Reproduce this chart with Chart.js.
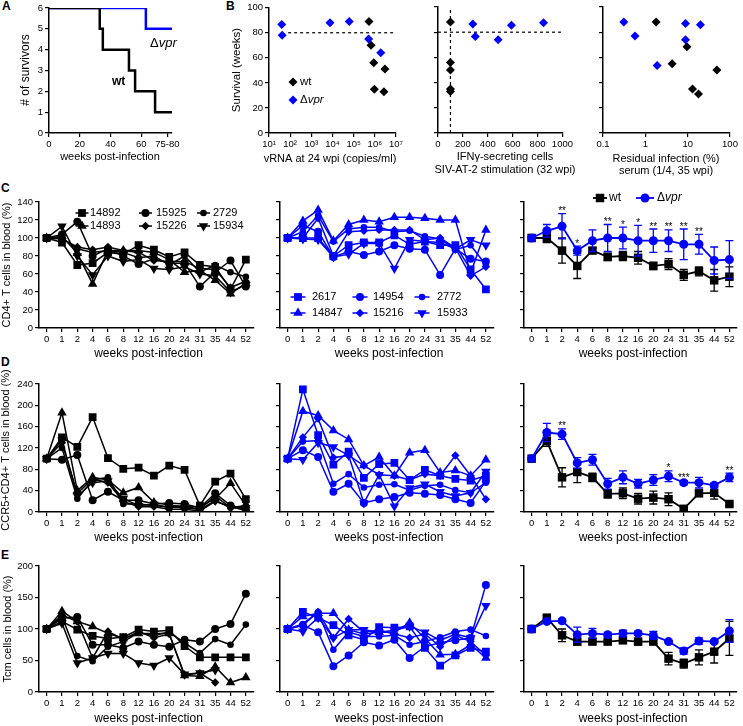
<!DOCTYPE html>
<html>
<head>
<meta charset="utf-8">
<script src="https://cdn.jsdelivr.net/npm/chart.js@4.4.1/dist/chart.umd.min.js"></script>
<style>
html,body{margin:0;padding:0;background:#fff;}
#root{position:relative;width:743px;height:726px;overflow:hidden;background:#fff;}
#root canvas{position:absolute;}
.pl{position:absolute;font:bold 12px 'Liberation Sans',Arial,sans-serif;color:#000;line-height:12px;}
</style>
</head>
<body>
<div id="root">
<div class="pl" style="left:2px;top:0px">A</div>
<div class="pl" style="left:226px;top:0px">B</div>
<div class="pl" style="left:1px;top:182px">C</div>
<div class="pl" style="left:1px;top:356px">D</div>
<div class="pl" style="left:1px;top:549px">E</div>
</div>
<script>
// ================= DATA =================
const weeks = ['0','1','2','4','6','8','12','16','20','24','31','35','44','52'];

// Panel A: survival step curves (corner points)
const survWeeksWt   = [0, 33, 33, 35, 35, 52, 52, 56, 56, 69, 69, 80];
const survCountWt   = [6, 6, 5, 5, 4, 4, 3, 3, 2, 2, 1, 1];
const survWeeksDvpr = [0, 63, 63, 80];
const survCountDvpr = [6, 6, 5, 5];
const survTickWeeks  = [0, 20, 40, 60, 77];
const survTickLabels = ['0', '20', '40', '60', '75-80'];

// Panel B
const survivalCutoff = 80;
const ifnCutoff = 100;
const vrnaWt       = [5.3e5, 6.6e5, 8.9e5, 3.0e6, 9.5e5, 2.7e6];
const survivalWt   = [89, 70, 56, 51, 35, 33];
const vrnaDvpr     = [40, 42, 7.6e3, 6.2e4, 5.1e5, 1.9e6];
const survivalDvpr = [86.5, 78, 88, 89, 75, 64];
const vrnaTickValues = [1e1, 1e2, 1e3, 1e4, 1e5, 1e6, 1e7];
const vrnaTickLabels = ['10¹', '10²', '10³', '10⁴', '10⁵', '10⁶', '10⁷'];
const ifnWt       = [100, 100, 100, 100, 100];
const ifnSurvWt   = [88, 56, 50, 35, 33];
const ifnDvpr     = [280, 300, 483, 590, 848];
const ifnSurvDvpr = [86.5, 76.5, 74, 85.5, 87.5];
const ifnTickValues = [0, 200, 400, 600, 800, 1000];
const ifnTickLabels = ['0', '200', '400', '600', '800', '1000'];
const resWt       = [1.8, 9.6, 4.3, 49, 13, 18];
const resSurvWt   = [88, 68.5, 55, 50, 35, 31];
const resDvpr     = [0.31, 0.57, 1.9, 8.9, 8.9, 20];
const resSurvDvpr = [88, 77, 53.5, 87, 74, 86];
const resTickValues = [0.1, 1, 10, 100];
const resTickLabels = ['0.1', '1', '10', '100'];

// Panel C: CD4+ T cells (% of baseline)
const cd4_14892 = [100, 95, 70, 72, 84, 82, 92, 87, 79, 84, 70, 68, 43, 76];
const cd4_15925 = [100, 104, 118, 80, 88, 80, 71, 77, 72, 72, 46, 62, 75, 46];
const cd4_2729  = [100, 100, 88, 84, 86, 84, 78, 80, 70, 80, 62, 70, 62, 57];
const cd4_14893 = [100, 102, 83, 49, 86, 86, 86, 84, 76, 62, 64, 53, 38, 50];
const cd4_15226 = [100, 99, 90, 87, 90, 86, 84, 75, 74, 74, 66, 65, 45, 52];
const cd4_15934 = [100, 113, 80, 59, 80, 74, 76, 66, 65, 68, 60, 58, 40, 48];
const cd4_2617  = [100, 100, 100, 80, 92, 95, 95, 103, 93, 96, 92, 92, 65, 43];
const cd4_14954 = [100, 114, 107, 79, 85, 81, 85, 92, 88, 87, 59, 88, 77, 74];
const cd4_2772  = [100, 107, 125, 96, 110, 112, 112, 107, 108, 102, 99, 87, 92, 70];
const cd4_14847 = [100, 119, 131, 97, 115, 120, 118, 123, 123, 122, 120, 120, 61, 109];
const cd4_15216 = [100, 100, 122, 80, 107, 108, 109, 109, 109, 98, 100, 89, 58, 68];
const cd4_15933 = [100, 99, 98, 79, 82, 94, 94, 66, 98, 96, 95, 88, 98, 92];
const cd4MeanWt   = [100, 100, 86, 69, 86, 79, 80, 78, 69, 71, 59, 63, 53, 57];
const cd4SemWt    = [0, 5, 14, 14, 3, 4, 5, 7, 4, 6, 6, 5, 12, 11];
const cd4MeanDvpr = [100, 108, 113, 86, 97, 100, 100, 97, 97, 97, 93, 93, 75, 76];
const cd4SemDvpr  = [0, 7, 14, 5, 12, 15, 12, 17, 13, 12, 17, 11, 15, 21];
const cd4Stars    = ['', '', '**', '*', '', '**', '*', '*', '**', '**', '**', '**', '', ''];

// Panel D: CCR5+CD4+ T cells
const ccr5_14892 = [100, 140, 122, 178, 101, 81, 83, 68, 87, 79, 12, 57, 72, 24];
const ccr5_15925 = [100, 98, 107, 22, 38, 22, 22, 15, 17, 15, 8, 35, 12, 5];
const ccr5_2729  = [100, 120, 25, 60, 65, 15, 15, 12, 10, 8, 5, 30, 8, 12];
const ccr5_14893 = [100, 186, 40, 65, 60, 36, 46, 18, 13, 10, 10, 25, 54, 12];
const ccr5_15226 = [100, 130, 35, 62, 55, 20, 10, 10, 5, 5, 2, 20, 10, 3];
const ccr5_15934 = [100, 135, 30, 55, 58, 25, 12, 14, 8, 12, 4, 22, 8, 8];
const ccr5_2617  = [100, 230, 144, 89, 113, 64, 90, 92, 60, 79, 68, 62, 59, 68];
const ccr5_14954 = [100, 116, 103, 38, 53, 17, 24, 28, 36, 34, 32, 24, 17, 58];
const ccr5_2772  = [100, 132, 134, 53, 71, 46, 51, 52, 41, 49, 51, 41, 36, 55];
const ccr5_14847 = [100, 189, 181, 153, 136, 87, 103, 68, 111, 116, 74, 78, 68, 98];
const ccr5_15216 = [100, 140, 175, 102, 106, 87, 70, 68, 60, 71, 68, 106, 68, 24];
const ccr5_15933 = [100, 98, 130, 122, 106, 17, 70, 11, 45, 52, 38, 30, 36, 76];
const ccr5MeanWt   = [100, 133, 65, 75, 65, 34, 35, 25, 27, 24, 6, 35, 36, 15];
const ccr5SemWt    = [0, 10, 18, 20, 8, 8, 10, 10, 12, 12, 2, 5, 12, 3];
const ccr5MeanDvpr = [100, 149, 146, 92, 98, 53, 65, 53, 60, 67, 55, 55, 50, 65];
const ccr5SemDvpr  = [0, 17, 10, 10, 10, 10, 12, 8, 10, 10, 4, 10, 4, 8];
const ccr5Stars    = ['', '', '**', '', '', '', '', '', '', '*', '***', '', '', '**'];

// Panel E: Tcm cells
const tcm_14892 = [100, 112, 99, 89, 85, 87, 99, 96, 98, 73, 55, 55, 55, 55];
const tcm_15925 = [100, 117, 119, 75, 75, 70, 80, 75, 72, 83, 80, 100, 108, 156];
const tcm_2729  = [100, 120, 57, 49, 72, 80, 94, 90, 95, 78, 62, 84, 75, 107];
const tcm_14893 = [100, 128, 112, 104, 93, 85, 93, 93, 93, 26, 25, 40, 15, 23];
const tcm_15226 = [100, 122, 112, 54, 96, 84, 96, 86, 92, 27, 30, 15, null, null];
const tcm_15934 = [100, 109, 46, 54, 61, 61, 46, 42, 54, 28, 30, 35, null, null];
const tcm_2617  = [100, 127, 118, 106, 90, 83, 103, 102, 104, 70, 42, 58, 70, 64];
const tcm_14954 = [100, 106, 95, 41, 58, 79, 74, 83, 54, 72, 78, 82, 86, 170];
const tcm_2772  = [100, 108, 127, 67, 95, 88, 88, 90, 75, 80, 87, 96, 99, 89];
const tcm_14847 = [100, 120, 125, 125, 99, 92, 95, 95, 110, 85, 59, 60, 75, 54];
const tcm_15216 = [100, 106, 127, 86, 116, 95, 98, 92, 86, 92, 72, 90, 80, 58];
const tcm_15933 = [100, 96, 118, 86, 99, 99, 95, 98, 104, 95, 82, 92, 86, 137];
const tcmMeanWt   = [100, 118, 90, 80, 80, 80, 82, 80, 80, 53, 45, 55, 64, 85];
const tcmSemWt    = [0, 3, 10, 5, 2, 2, 4, 5, 3, 10, 7, 12, 18, 27];
const tcmMeanDvpr = [100, 112, 113, 91, 93, 91, 93, 93, 90, 80, 65, 81, 80, 97];
const tcmSemDvpr  = [0, 3, 3, 12, 8, 3, 5, 3, 6, 2, 5, 5, 2, 18];

// ================= RENDERING =================
const FONT = "'Liberation Sans', Arial, Helvetica, sans-serif";
const BLACK = '#000000';
const BLUE = '#0000ff';
Chart.defaults.font.family = FONT;
Chart.defaults.color = '#000';
const root = document.getElementById('root');

function richText(ctx, parts, x, y, size, align, weight) {
  const fonts = parts.map(p => (p[1] ? 'italic ' : 'normal ') + (weight || 'normal') + ' ' + size + 'px ' + FONT);
  let total = 0;
  parts.forEach((p, i) => { ctx.font = fonts[i]; total += ctx.measureText(p[0]).width; });
  let cx = align === 'center' ? x - total / 2 : (align === 'right' ? x - total : x);
  ctx.textAlign = 'left';
  ctx.textBaseline = 'middle';
  parts.forEach((p, i) => { ctx.font = fonts[i]; ctx.fillText(p[0], cx, y); cx += ctx.measureText(p[0]).width; });
}

function marker(ctx, style, x, y, r, color) {
  ctx.fillStyle = color;
  ctx.beginPath();
  if (style === 'rect') { const h = r * Math.SQRT1_2; ctx.rect(x - h, y - h, 2 * h, 2 * h); }
  else if (style === 'circle') { ctx.arc(x, y, r, 0, Math.PI * 2); }
  else if (style === 'rectRot') { ctx.moveTo(x, y - r); ctx.lineTo(x + r, y); ctx.lineTo(x, y + r); ctx.lineTo(x - r, y); ctx.closePath(); }
  else {
    let a = style === 'triangle' ? 0 : Math.PI;
    for (let k = 0; k < 3; k++) {
      const px = x + Math.sin(a) * r, py = y - Math.cos(a) * r;
      if (k) ctx.lineTo(px, py); else ctx.moveTo(px, py);
      a += 2 * Math.PI / 3;
    }
    ctx.closePath();
  }
  ctx.fill();
}

function axis(type, o) {
  const a = {
    type: type,
    ticks: { display: o.labels !== false, font: { size: o.fontSize || 9.5 }, padding: 2, color: '#000',
             maxRotation: 0, minRotation: 0, autoSkip: false },
    grid: { display: true, drawOnChartArea: false, drawTicks: true, tickLength: 4, color: '#000', lineWidth: 1.2, offset: false },
    border: { display: true, color: '#000', width: 1.5 }
  };
  if (o.min !== undefined) a.min = o.min;
  if (o.max !== undefined) a.max = o.max;
  if (o.step) a.ticks.stepSize = o.step;
  if (o.tickValues) {
    const tv = o.tickValues, tl = o.tickLabels;
    a.afterBuildTicks = s => { s.ticks = tv.map(v => ({ value: v })); };
    if (tl) a.ticks.callback = (v, i) => tl[i];
  }
  if (type === 'category') a.offset = true;
  return a;
}

function makeChart(o) {
  const [L, T, R, B] = o.area;
  const left = Math.round(L - o.yw), top = Math.round(T - o.padTop);
  const W = Math.round(R + o.padRight) - left, H = Math.round(B + o.xh) - top;
  const yw = L - left, padTop = T - top, padRight = left + W - R, xh = top + H - B;
  const cv = document.createElement('canvas');
  cv.width = W; cv.height = H;
  cv.style.left = left + 'px'; cv.style.top = top + 'px';
  cv.style.width = W + 'px'; cv.style.height = H + 'px';
  root.appendChild(cv);
  const off = { left: left, top: top };
  const xScale = Object.assign({}, o.x, { afterFit: s => { s.height = xh; } });
  const yScale = Object.assign({}, o.y, { afterFit: s => { s.width = yw; } });
  const overlay = {
    id: 'overlay',
    beforeDatasetDraw(chart, args) {
      const ds = chart.data.datasets[args.index];
      if (!ds.errs) return;
      const ys = chart.scales.y, ctx = chart.ctx;
      ctx.save();
      ctx.strokeStyle = ds.borderColor; ctx.lineWidth = 1.3;
      args.meta.data.forEach((pt, i) => {
        const v = ds.data[i], e = ds.errs[i];
        if (v == null || !e) return;
        const y1 = ys.getPixelForValue(v - e), y2 = ys.getPixelForValue(v + e);
        ctx.beginPath();
        ctx.moveTo(pt.x, y1); ctx.lineTo(pt.x, y2);
        ctx.moveTo(pt.x - 4, y1); ctx.lineTo(pt.x + 4, y1);
        ctx.moveTo(pt.x - 4, y2); ctx.lineTo(pt.x + 4, y2);
        ctx.stroke();
      });
      ctx.restore();
    },
    afterDatasetsDraw(chart) {
      if (!o.stars) return;
      const ctx = chart.ctx, xs = chart.scales.x, ys = chart.scales.y, s = o.stars;
      ctx.save();
      ctx.fillStyle = '#000'; ctx.font = '10px ' + FONT; ctx.textAlign = 'center'; ctx.textBaseline = 'alphabetic';
      s.labels.forEach((lab, i) => {
        if (!lab) return;
        const topVal = Math.max(s.m1[i] + s.e1[i], s.m2[i] + s.e2[i]);
        ctx.fillText(lab, xs.getPixelForValue(i), ys.getPixelForValue(topVal) + 0.5);
      });
      ctx.restore();
    },
    afterDraw(chart) {
      const ctx = chart.ctx;
      (o.texts || []).forEach(t => {
        ctx.save();
        ctx.fillStyle = t.color || '#000';
        ctx.translate(t.x - off.left, t.y - off.top);
        if (t.rot) ctx.rotate(t.rot * Math.PI / 180);
        richText(ctx, t.parts, 0, 0, t.size, t.align || 'center', t.weight);
        ctx.restore();
      });
      (o.legend || []).forEach(it => {
        const x = it.x - off.left, y = it.y - off.top;
        ctx.save();
        if (it.half) {
          ctx.strokeStyle = it.color; ctx.lineWidth = it.lw || 1.5;
          ctx.beginPath(); ctx.moveTo(x - it.half, y); ctx.lineTo(x + it.half, y); ctx.stroke();
        }
        marker(ctx, it.style, x, y, it.r, it.color);
        ctx.fillStyle = '#000';
        richText(ctx, it.parts, it.tx - off.left, y, it.size, 'left');
        ctx.restore();
      });
    }
  };
  return new Chart(cv, {
    type: o.type,
    data: o.data,
    options: {
      responsive: false, animation: false, events: [],
      layout: { padding: { left: 0, top: padTop, right: padRight, bottom: 0 } },
      plugins: { legend: { display: false }, tooltip: { enabled: false } },
      scales: { x: xScale, y: yScale }
    },
    plugins: [overlay]
  });
}

function pts(xs, ys) { return xs.map((x, i) => ({ x: x, y: ys[i] })); }
function diamonds(xs, ys, color) {
  return { data: pts(xs, ys), pointStyle: 'rectRot', pointRadius: 4.5, pointBackgroundColor: color,
           pointBorderWidth: 0, borderColor: color, showLine: false };
}
function dashed(xs, ys) {
  return { data: pts(xs, ys), showLine: true, borderColor: BLACK, borderWidth: 1.2, borderDash: [3, 3], pointRadius: 0 };
}
function animal(data, style, color, r, rot) {
  return { data: data, borderColor: color, backgroundColor: color, borderWidth: 1.5, pointStyle: style,
           pointRadius: r, pointRotation: rot || 0, pointBorderWidth: 0, pointBackgroundColor: color,
           tension: 0, spanGaps: false };
}
function meanSeries(data, errs, style, color, r) {
  const d = animal(data, style, color, r, 0);
  d.borderWidth = 1.8; d.errs = errs;
  return d;
}
const WT_STYLE = [['rect', 5.5, 0], ['circle', 4, 0], ['circle', 3.3, 0], ['triangle', 5.5, 0], ['rectRot', 4.2, 0], ['triangle', 5.5, 180]];
function sixAnimals(arrs, color) {
  return arrs.map((a, i) => animal(a, WT_STYLE[i][0], color, WT_STYLE[i][1], WT_STYLE[i][2]));
}
const DVPR = [['Δ'], ['vpr', true]];

// ---------- Panel A ----------
makeChart({
  area: [49, 8, 172, 133], yw: 49, padTop: 8, padRight: 12, xh: 32, type: 'scatter',
  data: { datasets: [
    { data: pts(survWeeksWt, survCountWt), showLine: true, borderColor: BLACK, borderWidth: 2.5, pointRadius: 0 },
    { data: pts(survWeeksDvpr, survCountDvpr), showLine: true, borderColor: BLUE, borderWidth: 2.5, pointRadius: 0 }
  ] },
  x: axis('linear', { min: 0, max: 80, tickValues: survTickWeeks, tickLabels: survTickLabels }),
  y: axis('linear', { min: 0, max: 6, step: 1 }),
  texts: [
    { x: 26, y: 70, rot: -90, parts: [['# of survivors']], size: 12 },
    { x: 110, y: 157, parts: [['weeks post-infection']], size: 11 },
    { x: 150, y: 43, parts: DVPR, size: 13, align: 'left' },
    { x: 112, y: 82, parts: [['wt']], size: 12, weight: 'bold', align: 'left' }
  ]
});

// ---------- Panel B ----------
makeChart({
  area: [269, 7, 396, 133], yw: 44, padTop: 7, padRight: 9, xh: 39, type: 'scatter',
  data: { datasets: [
    diamonds(vrnaDvpr, survivalDvpr, BLUE),
    diamonds(vrnaWt, survivalWt, BLACK),
    dashed([80, 1e7], [survivalCutoff, survivalCutoff])
  ] },
  x: axis('logarithmic', { min: 10, max: 1e7, tickValues: vrnaTickValues, tickLabels: vrnaTickLabels }),
  y: axis('linear', { min: 0, max: 100, step: 20 }),
  texts: [
    { x: 237, y: 70, rot: -90, parts: [['Survival (weeks)']], size: 11.5 },
    { x: 330, y: 159, parts: [['vRNA at 24 wpi (copies/ml)']], size: 11 }
  ],
  legend: [
    { x: 293, y: 82, style: 'rectRot', r: 4.5, color: BLACK, tx: 300, parts: [['wt']], size: 11.5 },
    { x: 293, y: 100, style: 'rectRot', r: 4.5, color: BLUE, tx: 300, parts: DVPR, size: 11.5 }
  ]
});
makeChart({
  area: [438, 7, 563, 133], yw: 28, padTop: 7, padRight: 12, xh: 45, type: 'scatter',
  data: { datasets: [
    diamonds(ifnDvpr, ifnSurvDvpr, BLUE),
    diamonds(ifnWt, ifnSurvWt, BLACK),
    dashed([0, 1000], [survivalCutoff, survivalCutoff]),
    dashed([ifnCutoff, ifnCutoff], [0, 100])
  ] },
  x: axis('linear', { min: 0, max: 1000, tickValues: ifnTickValues, tickLabels: ifnTickLabels }),
  y: axis('linear', { min: 0, max: 100, step: 20, labels: false }),
  texts: [
    { x: 505, y: 157, parts: [['IFNγ-secreting cells']], size: 11 },
    { x: 505, y: 169.5, parts: [['SIV-AT-2 stimulation (32 wpi)']], size: 11 }
  ]
});
makeChart({
  area: [603, 7, 730, 133], yw: 23, padTop: 7, padRight: 12, xh: 45, type: 'scatter',
  data: { datasets: [
    diamonds(resDvpr, resSurvDvpr, BLUE),
    diamonds(resWt, resSurvWt, BLACK)
  ] },
  x: axis('logarithmic', { min: 0.1, max: 100, tickValues: resTickValues, tickLabels: resTickLabels }),
  y: axis('linear', { min: 0, max: 100, step: 20, labels: false }),
  texts: [
    { x: 666, y: 159, parts: [['Residual infection (%)']], size: 11 },
    { x: 666, y: 171, parts: [['serum (1/4, 35 wpi)']], size: 11 }
  ]
});

// ---------- Rows C, D, E ----------
const COLS = [[39, 258], [280, 498], [524, 742]];
const ROWS = {
  C: { t: 202, b: 328, max: 140, step: 20, title: 'CD4+ T cells in blood (%)', tx: 7, ty: 265, xt: 354 },
  D: { t: 384, b: 512, max: 240, step: 40, title: 'CCR5+CD4+ T cells in blood (%)', tx: 6, ty: 450, xt: 537.5 },
  E: { t: 566, b: 692, max: 200, step: 50, title: 'Tcm cells in blood (%)', tx: 8, ty: 629, xt: 719 }
};
function rowChart(rowKey, col, datasets, extra) {
  const r = ROWS[rowKey], c = COLS[col];
  const o = Object.assign({
    area: [c[0], r.t, c[1], r.b], yw: col === 0 ? c[0] : 6, padTop: 12,
    padRight: col === 2 ? 743 - c[1] : 1, xh: r.xt + 7 - r.b, type: 'line',
    data: { labels: weeks, datasets: datasets },
    x: axis('category', {}),
    y: axis('linear', { min: 0, max: r.max, step: r.step, labels: col === 0 })
  }, extra || {});
  const texts = [{ x: (c[0] + c[1]) / 2, y: r.xt, parts: [['weeks post-infection']], size: 12 }];
  if (col === 0) texts.push({ x: r.tx, y: r.ty, rot: -90, parts: [[r.title]], size: 11 });
  o.texts = texts.concat(o.texts || []);
  return makeChart(o);
}
function legendSix(ids, color, rowsY, colsX, textX, half) {
  return ids.map((id, i) => {
    const row = i < 3 ? 0 : 1, col = i % 3;
    const st = WT_STYLE[i];
    return { x: colsX[col], y: rowsY[row], style: st[2] === 180 ? 'triangleDown' : st[0], r: st[1], color: color,
             half: half, tx: textX[col], parts: [[id]], size: 11 };
  });
}
const wtIds = ['14892', '15925', '2729', '14893', '15226', '15934'];
const dvprIds = ['2617', '14954', '2772', '14847', '15216', '15933'];

// C
rowChart('C', 0, sixAnimals([cd4_14892, cd4_15925, cd4_2729, cd4_14893, cd4_15226, cd4_15934], BLACK), {
  legend: legendSix(wtIds, BLACK, [213, 226], [82, 145.5, 203.5], [90, 156, 213], 6.5)
});
rowChart('C', 1, sixAnimals([cd4_2617, cd4_14954, cd4_2772, cd4_14847, cd4_15216, cd4_15933], BLUE), {
  legend: legendSix(dvprIds, BLUE, [297, 313], [298, 360, 422], [312, 373, 437], 7.5)
});
rowChart('C', 2, [
  meanSeries(cd4MeanDvpr, cd4SemDvpr, 'circle', BLUE, 4.5),
  meanSeries(cd4MeanWt, cd4SemWt, 'rect', BLACK, 6)
], {
  padTop: 14,
  stars: { labels: cd4Stars, m1: cd4MeanWt, e1: cd4SemWt, m2: cd4MeanDvpr, e2: cd4SemDvpr },
  legend: [
    { x: 600, y: 198, style: 'rect', r: 6, color: BLACK, half: 7, lw: 1.8, tx: 609, parts: [['wt']], size: 12 },
    { x: 645, y: 198, style: 'circle', r: 4.5, color: BLUE, half: 9, lw: 1.8, tx: 657, parts: DVPR, size: 12 }
  ]
});

// D
rowChart('D', 0, sixAnimals([ccr5_14892, ccr5_15925, ccr5_2729, ccr5_14893, ccr5_15226, ccr5_15934], BLACK), { padTop: 24 });
rowChart('D', 1, sixAnimals([ccr5_2617, ccr5_14954, ccr5_2772, ccr5_14847, ccr5_15216, ccr5_15933], BLUE));
rowChart('D', 2, [
  meanSeries(ccr5MeanDvpr, ccr5SemDvpr, 'circle', BLUE, 4.5),
  meanSeries(ccr5MeanWt, ccr5SemWt, 'rect', BLACK, 6)
], { stars: { labels: ccr5Stars, m1: ccr5MeanWt, e1: ccr5SemWt, m2: ccr5MeanDvpr, e2: ccr5SemDvpr } });

// E
rowChart('E', 0, sixAnimals([tcm_14892, tcm_15925, tcm_2729, tcm_14893, tcm_15226, tcm_15934], BLACK));
rowChart('E', 1, sixAnimals([tcm_2617, tcm_14954, tcm_2772, tcm_14847, tcm_15216, tcm_15933], BLUE));
rowChart('E', 2, [
  meanSeries(tcmMeanDvpr, tcmSemDvpr, 'circle', BLUE, 4.5),
  meanSeries(tcmMeanWt, tcmSemWt, 'rect', BLACK, 6)
]);
</script>
</body>
</html>
